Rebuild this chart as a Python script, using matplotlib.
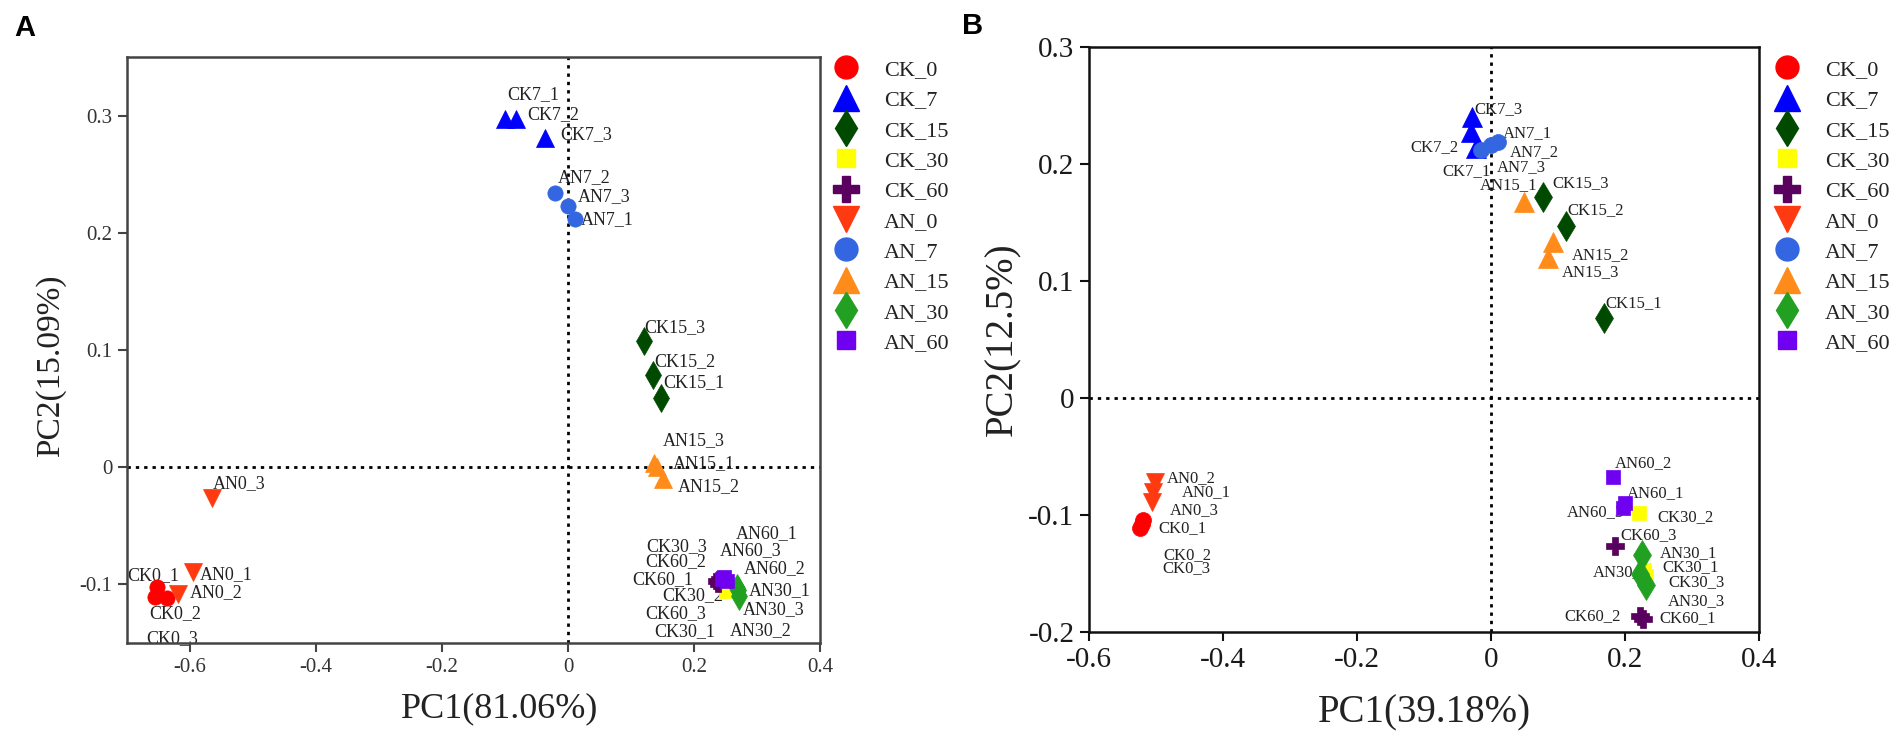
import matplotlib
matplotlib.use('Agg')
import matplotlib.pyplot as plt
from matplotlib.lines import Line2D

# ---------------- data ----------------
groups = ['CK_0', 'CK_7', 'CK_15', 'CK_30', 'CK_60',
          'AN_0', 'AN_7', 'AN_15', 'AN_30', 'AN_60']

colors = {'CK_0': '#FF0000', 'CK_7': '#0000FF', 'CK_15': '#004A00',
          'CK_30': '#FFFF00', 'CK_60': '#5A005E', 'AN_0': '#FF3A10',
          'AN_7': '#3366E0', 'AN_15': '#FF8C1A', 'AN_30': '#22A022',
          'AN_60': '#7000F0'}
markers = {'CK_0': 'o', 'CK_7': '^', 'CK_15': 'd', 'CK_30': 's', 'CK_60': 'P',
           'AN_0': 'v', 'AN_7': 'o', 'AN_15': '^', 'AN_30': 'd', 'AN_60': 's'}

# Panel A  (PC1 81.06 %, PC2 15.09 %)  replicates _1, _2, _3
a_pc1 = {'CK_0': [-0.652, -0.656, -0.637], 'CK_7': [-0.100, -0.082, -0.036],
         'CK_15': [0.148, 0.135, 0.120], 'CK_30': [0.250, 0.252, 0.248],
         'CK_60': [0.235, 0.240, 0.238], 'AN_0': [-0.595, -0.619, -0.565],
         'AN_7': [0.011, -0.021, 0.000], 'AN_15': [0.142, 0.150, 0.136],
         'AN_30': [0.270, 0.272, 0.268], 'AN_60': [0.248, 0.252, 0.245]}
a_pc2 = {'CK_0': [-0.1025, -0.111, -0.112], 'CK_7': [0.297, 0.297, 0.281],
         'CK_15': [0.059, 0.079, 0.108], 'CK_30': [-0.106, -0.103, -0.100],
         'CK_60': [-0.097, -0.095, -0.100], 'AN_0': [-0.0897, -0.108, -0.0265],
         'AN_7': [0.212, 0.234, 0.223], 'AN_15': [0.000, -0.010, 0.004],
         'AN_30': [-0.105, -0.110, -0.103], 'AN_60': [-0.094, -0.097, -0.095]}

# Panel B  (PC1 39.18 %, PC2 12.5 %)
b_pc1 = {'CK_0': [-0.519, -0.524, -0.521], 'CK_7': [-0.022, -0.030, -0.029],
         'CK_15': [0.169, 0.112, 0.078], 'CK_30': [0.229, 0.221, 0.232],
         'CK_60': [0.227, 0.222, 0.185], 'AN_0': [-0.504, -0.5015, -0.506],
         'AN_7': [0.010, 0.000, -0.015], 'AN_15': [0.049, 0.093, 0.085],
         'AN_30': [0.225, 0.222, 0.231], 'AN_60': [0.200, 0.182, 0.197]}
b_pc2 = {'CK_0': [-0.104, -0.111, -0.108], 'CK_7': [0.214, 0.227, 0.240],
         'CK_15': [0.068, 0.147, 0.172], 'CK_30': [-0.147, -0.098, -0.152],
         'CK_60': [-0.189, -0.186, -0.1265], 'AN_0': [-0.080, -0.072, -0.089],
         'AN_7': [0.219, 0.216, 0.212], 'AN_15': [0.1675, 0.133, 0.120],
         'AN_30': [-0.134, -0.150, -0.160], 'AN_60': [-0.090, -0.0675, -0.094]}

a_xticks = [-0.6, -0.4, -0.2, 0, 0.2, 0.4]
a_xticklabels = ['-0.6', '-0.4', '-0.2', '0', '0.2', '0.4']
a_yticks = [-0.1, 0, 0.1, 0.2, 0.3]
a_yticklabels = ['-0.1', '0', '0.1', '0.2', '0.3']
b_xticks = [-0.6, -0.4, -0.2, 0, 0.2, 0.4]
b_xticklabels = ['-0.6', '-0.4', '-0.2', '0', '0.2', '0.4']
b_yticks = [-0.2, -0.1, 0, 0.1, 0.2, 0.3]
b_yticklabels = ['-0.2', '-0.1', '0', '0.1', '0.2', '0.3']

# ---------------- label offsets (pixels) ----------------
a_offsets = {
    'CK7_1': (2, 24), 'CK7_2': (11, 4), 'CK7_3': (15, 3),
    'AN7_2': (3, 15), 'AN7_3': (10, 9), 'AN7_1': (6, -1),
    'CK15_3': (1, 13), 'CK15_2': (1, 13), 'CK15_1': (2, 15),
    'AN15_3': (9, 22), 'AN15_1': (15, 4), 'AN15_2': (15, -8),
    'AN0_3': (1, 15), 'AN0_1': (7, -2), 'AN0_2': (12, 1),
    'CK0_1': (-30, 12), 'CK0_2': (-5, -16), 'CK0_3': (-20, -40),
    'CK30_1': (-71, -40), 'CK30_2': (-65, -8), 'CK30_3': (-78, 38),
    'CK60_1': (-84, 1), 'CK60_2': (-74, 17), 'CK60_3': (-73, -29),
    'AN30_1': (11, 0), 'AN30_2': (-10, -35), 'AN30_3': (6, -22),
    'AN60_1': (12, 44), 'AN60_2': (17, 12), 'AN60_3': (-3, 28),
}
b_offsets = {
    'CK7_3': (3, 8), 'CK7_2': (-61, -15), 'CK7_1': (-34, -24),
    'AN7_1': (5, 9), 'AN7_2': (19, -7), 'AN7_3': (16, -17),
    'AN15_1': (-44, 17), 'CK15_3': (9, 14), 'CK15_2': (1, 16),
    'AN15_2': (19, -13), 'AN15_3': (14, -15), 'CK15_1': (1, 15),
    'AN0_2': (12, 4), 'AN0_1': (29, -1), 'AN0_3': (18, -8),
    'CK0_1': (15, -8), 'CK0_2': (23, -27), 'CK0_3': (20, -44),
    'AN60_2': (2, 14), 'AN60_1': (2, 10), 'AN60_3': (-56, -4),
    'CK30_2': (18, -4), 'CK60_3': (5, 11), 'AN30_1': (18, 2),
    'CK30_1': (18, 3), 'AN30_2': (-47, 1), 'CK30_3': (22, -6),
    'AN30_3': (22, -16), 'CK60_2': (-75, -1), 'CK60_1': (16, 1),
}

SERIF = ['Liberation Serif', 'DejaVu Serif']
plt.rcParams['font.family'] = SERIF

size_a = {'o': 11, '^': 12.5, 'v': 12.5, 'd': 14, 's': 9.5, 'P': 12}
size_b = {'o': 11.5, '^': 14.5, 'v': 13.5, 'd': 15, 's': 10, 'P': 13.5}
size_leg = {'o': 16.5, '^': 19, 'v': 19, 'd': 18.5, 's': 13, 'P': 19}

fig = plt.figure(figsize=(19.04, 7.33), dpi=100)
W, H = 1904, 733
axA = fig.add_axes([127 / W, (H - 643) / H, 693 / W, 586 / H])
axB = fig.add_axes([1089 / W, (H - 632) / H, 670 / W, 585 / H])


def draw(ax, pc1, pc2, offsets, sizes, lab_fs, spine_col, tick_col, tick_fs):
    for g in groups:
        ax.plot(pc1[g], pc2[g], linestyle='none', marker=markers[g],
                color=colors[g], markeredgecolor=colors[g],
                markersize=sizes[markers[g]], markeredgewidth=0.5, zorder=3)
        base = g.replace('_', '')
        for i, (x, y) in enumerate(zip(pc1[g], pc2[g])):
            name = f'{base}_{i + 1}'
            dx, dy = offsets.get(name, (6, 6))
            ax.annotate(name, (x, y), xytext=(dx, dy),
                        textcoords='offset pixels', ha='left', va='center',
                        fontsize=lab_fs, color='#222222', zorder=2)
    ax.axhline(0, color='black', linestyle=(0, (1.2, 1.8)), linewidth=2, zorder=1)
    ax.axvline(0, color='black', linestyle=(0, (1.2, 1.8)), linewidth=2, zorder=1)
    for s in ax.spines.values():
        s.set_color(spine_col)
        s.set_linewidth(1.8)
    ax.tick_params(direction='out', length=6.5, width=1.5, color=spine_col,
                   labelsize=tick_fs, labelcolor=tick_col, pad=4,
                   top=False, right=False)


draw(axA, a_pc1, a_pc2, a_offsets, size_a, 13, '#444444', '#333333', 15)
axA.set_xlim(-0.7, 0.4)
axA.set_ylim(-0.15, 0.35)
axA.set_xticks(a_xticks)
axA.set_xticklabels(a_xticklabels)
axA.set_yticks(a_yticks)
axA.set_yticklabels(a_yticklabels)
axA.set_xlabel('PC1(81.06%)', fontsize=26, color='#222222')
axA.set_ylabel('PC2(15.09%)', fontsize=24, color='#222222')
axA.xaxis.set_label_coords(0.538, -0.113)
axA.yaxis.set_label_coords(-0.110, 0.473)
axA.xaxis.label.set_va('center')
axA.yaxis.label.set_va('center')

draw(axB, b_pc1, b_pc2, b_offsets, size_b, 12, '#111111', '#1a1a1a', 21)
axB.set_xlim(-0.6, 0.4)
axB.set_ylim(-0.2, 0.3)
axB.set_xticks(b_xticks)
axB.set_xticklabels(b_xticklabels)
axB.set_yticks(b_yticks)
axB.set_yticklabels(b_yticklabels)
axB.set_xlabel('PC1(39.18%)', fontsize=28, color='#222222')
axB.set_ylabel('PC2(12.5%)', fontsize=28, color='#222222')
axB.xaxis.set_label_coords(0.5, -0.138)
axB.yaxis.set_label_coords(-0.128, 0.5)
axB.xaxis.label.set_va('center')
axB.yaxis.label.set_va('center')

handles = [Line2D([], [], linestyle='none', marker=markers[g], color=colors[g],
                  markeredgecolor=colors[g], markersize=size_leg[markers[g]])
           for g in groups]

for x0 in (830.5, 1771.5):
    fig.legend(handles, groups, loc='upper left',
               bbox_to_anchor=(x0 / W, 1 - 59.5 / H), bbox_transform=fig.transFigure,
               frameon=False, fontsize=16, borderpad=0, borderaxespad=0,
               handlelength=1.4, handletextpad=1.0, labelspacing=0.44,
               labelcolor='#222222')

fig.text(25 / W, 1 - 28 / H, 'A', fontsize=21, fontweight='bold',
         family=['Liberation Sans', 'DejaVu Sans'], ha='center', va='center')
fig.text(973 / W, 1 - 26 / H, 'B', fontsize=21, fontweight='bold',
         family=['Liberation Sans', 'DejaVu Sans'], ha='center', va='center')

fig.savefig('out.png', dpi=100)
